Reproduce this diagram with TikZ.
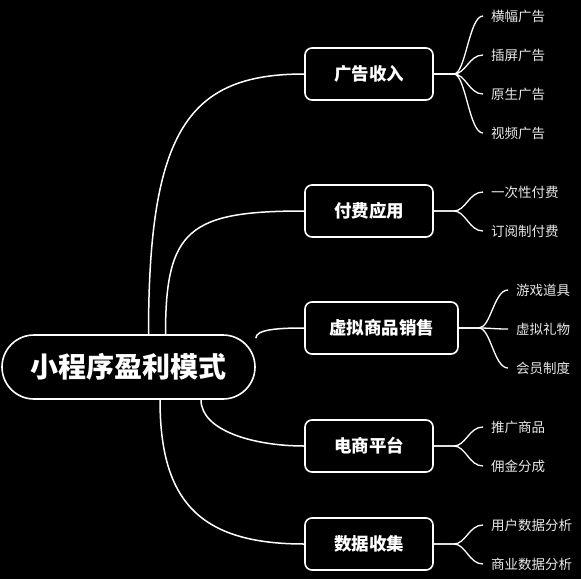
\documentclass[tikz,border=0pt]{standalone}
\usepackage{fontspec}
\setmainfont{Noto Sans CJK SC}
\definecolor{mapink}{HTML}{FFFFFF}
\definecolor{mapleaf}{HTML}{E8E8E8}
\definecolor{mappaper}{HTML}{000000}

\begin{document}
\begin{tikzpicture}[
  x=1pt,
  y=-1pt,
  every node/.style={text=mapink},
  rootbox/.style={draw=mapink, line width=1.6pt, fill=mappaper, rounded corners=32pt,
    minimum width=253pt, minimum height=64pt, font=\fontsize{28}{32}\selectfont\bfseries},
  branchbox/.style={draw=mapink, line width=1.6pt, fill=mappaper, rounded corners=7pt,
    minimum width=128pt, minimum height=52pt, inner xsep=24pt,
    font=\fontsize{17.5}{20}\selectfont\bfseries},
  leaf/.style={anchor=west, inner xsep=8pt, inner ysep=0pt, text=mapleaf,
    font=\fontsize{13.5}{15}\selectfont},
  link/.style={mapink, line width=1.5pt},
  twig/.style={mapink, line width=1.3pt}
]
  % ---- page, same size as the reference ----
  \fill[mappaper] (0,0) rectangle (581,579);

  % ---- root and branches ----
  \node[rootbox] (root) at (128.5,367) {小程序盈利模式};
  \node[branchbox] (ad) at (369,74) {广告收入};
  \node[branchbox] (paid) at (369,211) {付费应用};
  \node[branchbox] (virt) at (381.5,328) {虚拟商品销售};
  \node[branchbox] (shop) at (369,446) {电商平台};
  \node[branchbox] (data) at (369,544) {数据收集};

  % ---- root to branches ----
  \draw[link] ([xshift=20pt]root.north) .. controls +(0,-205) and +(-115,0) .. (ad.west);
  \draw[link] ([xshift=37pt]root.north) .. controls +(0,-105) and +(-115,0) .. (paid.west);
  \draw[link] ([yshift=-4pt]root.north east) .. controls +(0,-9) and +(-25,0) .. (virt.west);
  \draw[link] ([xshift=72.5pt]root.south) .. controls +(0,31) and +(-50,0) .. (shop.west);
  \draw[link] ([xshift=31.5pt]root.south) .. controls +(0,101) and +(-105,0) .. (data.west);

  % ---- leaves ----
  \node[leaf] (ad1) at (483,16) {横幅广告};
  \node[leaf] (ad2) at (483,55) {插屏广告};
  \node[leaf] (ad3) at (483,94) {原生广告};
  \node[leaf] (ad4) at (483,133) {视频广告};
  \node[leaf] (paid1) at (483,192) {一次性付费};
  \node[leaf] (paid2) at (483,231) {订阅制付费};
  \node[leaf] (virt1) at (508,290) {游戏道具};
  \node[leaf] (virt2) at (508,329) {虚拟礼物};
  \node[leaf] (virt3) at (508,368) {会员制度};
  \node[leaf] (shop1) at (483,427) {推广商品};
  \node[leaf] (shop2) at (483,466) {佣金分成};
  \node[leaf] (data1) at (483,525) {用户数据分析};
  \node[leaf] (data2) at (483,564) {商业数据分析};

  % ---- branches to leaves ----
  \draw[twig] (ad.east) -- ++(20,0) .. controls +(12,0) and +(-14,0) .. (ad1.west);
  \draw[twig] (ad.east) -- ++(20,0) .. controls +(12,0) and +(-14,0) .. (ad2.west);
  \draw[twig] (ad.east) -- ++(20,0) .. controls +(12,0) and +(-14,0) .. (ad3.west);
  \draw[twig] (ad.east) -- ++(20,0) .. controls +(12,0) and +(-14,0) .. (ad4.west);
  \draw[twig] (paid.east) -- ++(20,0) .. controls +(12,0) and +(-14,0) .. (paid1.west);
  \draw[twig] (paid.east) -- ++(20,0) .. controls +(12,0) and +(-14,0) .. (paid2.west);
  \draw[twig] (virt.east) -- ++(20,0) .. controls +(12,0) and +(-14,0) .. (virt1.west);
  \draw[twig] (virt.east) -- ++(20,0) .. controls +(12,0) and +(-14,0) .. (virt2.west);
  \draw[twig] (virt.east) -- ++(20,0) .. controls +(12,0) and +(-14,0) .. (virt3.west);
  \draw[twig] (shop.east) -- ++(20,0) .. controls +(12,0) and +(-14,0) .. (shop1.west);
  \draw[twig] (shop.east) -- ++(20,0) .. controls +(12,0) and +(-14,0) .. (shop2.west);
  \draw[twig] (data.east) -- ++(20,0) .. controls +(12,0) and +(-14,0) .. (data1.west);
  \draw[twig] (data.east) -- ++(20,0) .. controls +(12,0) and +(-14,0) .. (data2.west);
\end{tikzpicture}
\end{document}
